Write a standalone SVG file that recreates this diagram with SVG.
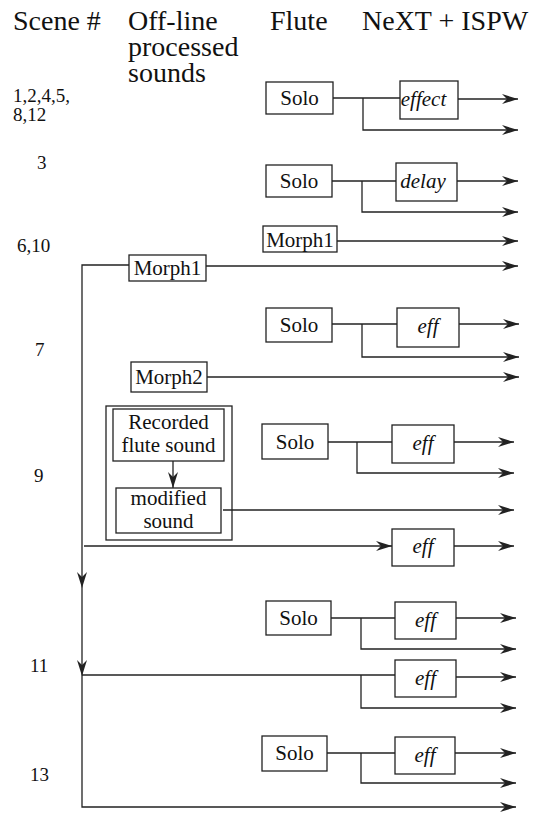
<svg xmlns="http://www.w3.org/2000/svg" width="541" height="816" viewBox="0 0 541 816">
<style>
  text { font-family: "Liberation Serif", "Times New Roman", serif; fill: #111; }
  .hdr { font-size: 28px; }
  .scn { font-size: 19px; }
  .lbl { font-size: 21px; text-anchor: middle; }
  .it { font-style: italic; }
  .box { fill: #fff; stroke: #222; stroke-width: 1.3; }
  .frame { fill: none; stroke: #222; stroke-width: 1.3; }
  .ln { fill: none; stroke: #222; stroke-width: 1.3; }
</style>
<defs>
  <marker id="arr" markerUnits="userSpaceOnUse" markerWidth="17" markerHeight="11" refX="16" refY="5" orient="auto">
    <path d="M0,0 L16,5 L0,10 L5,5 Z" fill="#222"/>
  </marker>
</defs>
<rect width="541" height="816" fill="#fff"/>

<g id="headers">
  <text class="hdr" x="13" y="30">Scene #</text>
  <text class="hdr" x="128" y="30">Off-line</text>
  <text class="hdr" x="128" y="56">processed</text>
  <text class="hdr" x="128" y="82">sounds</text>
  <text class="hdr" x="270" y="30">Flute</text>
  <text class="hdr" x="362" y="30">NeXT + ISPW</text>
</g>

<g id="scenes">
  <text class="scn" x="13" y="102">1,2,4,5,</text>
  <text class="scn" x="13" y="121">8,12</text>
  <text class="scn" x="37" y="169">3</text>
  <text class="scn" x="17" y="252">6,10</text>
  <text class="scn" x="35" y="356">7</text>
  <text class="scn" x="34" y="482">9</text>
  <text class="scn" x="30" y="672">11</text>
  <text class="scn" x="30" y="781">13</text>
</g>

<g id="connectors">
  <!-- row 1 -->
  <path class="ln" d="M333,98 H400"/>
  <path class="ln" d="M458,99 H518" marker-end="url(#arr)"/>
  <path class="ln" d="M363,98 V130 H518" marker-end="url(#arr)"/>
  <!-- row 3 -->
  <path class="ln" d="M332,181 H396"/>
  <path class="ln" d="M457,181 H518" marker-end="url(#arr)"/>
  <path class="ln" d="M362,181 V212 H518" marker-end="url(#arr)"/>
  <!-- Morph1 flute -->
  <path class="ln" d="M337,241 H518" marker-end="url(#arr)"/>
  <!-- Morph1 offline -->
  <path class="ln" d="M206,266 H518" marker-end="url(#arr)"/>
  <path class="ln" d="M129,265 H82 V588" marker-end="url(#arr)"/>
  <path class="ln" d="M82,588 V676" marker-end="url(#arr)"/>
  <path class="ln" d="M82,676 V807 H516" marker-end="url(#arr)"/>
  <!-- row 7 -->
  <path class="ln" d="M332,324 H397"/>
  <path class="ln" d="M459,324 H519" marker-end="url(#arr)"/>
  <path class="ln" d="M362,324 V357 H519" marker-end="url(#arr)"/>
  <!-- Morph2 -->
  <path class="ln" d="M207,377 H519" marker-end="url(#arr)"/>
  <!-- Recorded -> modified -->
  <path class="ln" d="M173,461 V488" marker-end="url(#arr)"/>
  <!-- row 9 -->
  <path class="ln" d="M328,442 H392"/>
  <path class="ln" d="M454,442 H514" marker-end="url(#arr)"/>
  <path class="ln" d="M357,442 V473 H514" marker-end="url(#arr)"/>
  <path class="ln" d="M223,510 H514" marker-end="url(#arr)"/>
  <path class="ln" d="M84,546 H392" marker-end="url(#arr)"/>
  <path class="ln" d="M454,546 H514" marker-end="url(#arr)"/>
  <!-- row 11 -->
  <path class="ln" d="M331,618 H395"/>
  <path class="ln" d="M456,618 H516" marker-end="url(#arr)"/>
  <path class="ln" d="M361,618 V649 H516" marker-end="url(#arr)"/>
  <path class="ln" d="M82,675 H395"/>
  <path class="ln" d="M456,677 H516" marker-end="url(#arr)"/>
  <path class="ln" d="M361,675 V708 H516" marker-end="url(#arr)"/>
  <!-- row 13 -->
  <path class="ln" d="M327,753 H395"/>
  <path class="ln" d="M455,753 H516" marker-end="url(#arr)"/>
  <path class="ln" d="M361,753 V783 H516" marker-end="url(#arr)"/>
</g>

<g id="solo1"><rect class="box" x="266" y="82" width="67" height="32"/><text class="lbl" x="299.5" y="105">Solo</text></g>
<g id="effect1"><rect class="box" x="400" y="81" width="58" height="38"/><text class="lbl it" x="423.5" y="106">effect</text></g>

<g id="solo3"><rect class="box" x="266" y="165" width="66" height="32"/><text class="lbl" x="299" y="188">Solo</text></g>
<g id="delay3"><rect class="box" x="396" y="163" width="61" height="38"/><text class="lbl it" x="423" y="188">delay</text></g>

<g id="morph1flute"><rect class="box" x="263" y="226" width="74" height="26"/><text class="lbl" x="300" y="247">Morph1</text></g>
<g id="morph1off"><rect class="box" x="129" y="255" width="77" height="26"/><text class="lbl" x="167.5" y="275">Morph1</text></g>

<g id="solo7"><rect class="box" x="266" y="308" width="66" height="34"/><text class="lbl" x="299" y="332">Solo</text></g>
<g id="eff7"><rect class="box" x="397" y="308" width="62" height="39"/><text class="lbl it" x="428" y="333">eff</text></g>

<g id="morph2"><rect class="box" x="131" y="362" width="76" height="30"/><text class="lbl" x="169" y="384">Morph2</text></g>

<g id="offlinegroup">
  <rect class="frame" x="106" y="406" width="126" height="134"/>
  <g id="recorded"><rect class="box" x="113" y="409" width="111" height="52"/>
    <text class="lbl" x="168.5" y="429">Recorded</text>
    <text class="lbl" x="168.5" y="452">flute sound</text></g>
  <g id="modified"><rect class="box" x="116" y="488" width="105" height="45"/>
    <text class="lbl" x="168.5" y="505">modified</text>
    <text class="lbl" x="168.5" y="528">sound</text></g>
</g>

<g id="solo9"><rect class="box" x="262" y="424" width="66" height="35"/><text class="lbl" x="295" y="449">Solo</text></g>
<g id="eff9"><rect class="box" x="392" y="425" width="62" height="38"/><text class="lbl it" x="423" y="450">eff</text></g>
<g id="eff9b"><rect class="box" x="392" y="529" width="62" height="37"/><text class="lbl it" x="423" y="553">eff</text></g>

<g id="solo11"><rect class="box" x="266" y="601" width="65" height="34"/><text class="lbl" x="298.5" y="625">Solo</text></g>
<g id="eff11"><rect class="box" x="395" y="602" width="61" height="37"/><text class="lbl it" x="425.5" y="627">eff</text></g>
<g id="eff11b"><rect class="box" x="395" y="660" width="61" height="37"/><text class="lbl it" x="425.5" y="685">eff</text></g>

<g id="solo13"><rect class="box" x="262" y="736" width="65" height="35"/><text class="lbl" x="294.5" y="760">Solo</text></g>
<g id="eff13"><rect class="box" x="395" y="737" width="60" height="37"/><text class="lbl it" x="425" y="762">eff</text></g>
</svg>
